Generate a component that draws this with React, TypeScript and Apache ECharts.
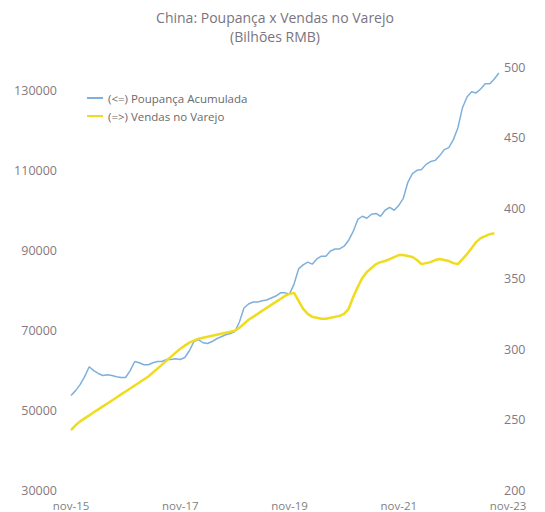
import React, { useEffect, useRef } from "react";
import * as echarts from "echarts";

const monthNames = ["jan", "fev", "mar", "abr", "mai", "jun", "jul", "ago", "set", "out", "nov", "dez"];
// Months from nov-15 to nov-23
const categories: string[] = [];
for (let k = 0; k <= 96; k++) {
  const m = (10 + k) % 12;
  const y = 15 + Math.floor((10 + k) / 12);
  categories.push(`${monthNames[m]}-${y}`);
}

const poupanca = [
  53700, 54900, 56400, 58400, 60900, 59900, 59200, 58700, 58900, 58700,
  58400, 58200, 58200, 59900, 62200, 61900, 61400, 61400, 61900, 62200,
  62200, 62700, 62700, 62900, 62700, 63200, 64900, 67200, 67700, 66900,
  66700, 67200, 67900, 68400, 68900, 69200, 69700, 72100, 75600, 76600,
  77100, 77100, 77400, 77600, 78100, 78600, 79400, 79400, 79100, 81600,
  85400, 86400, 87100, 86600, 87900, 88600, 88600, 89900, 90400, 90400,
  91100, 92600, 94800, 97800, 98600, 98100, 99100, 99300, 98600, 100100,
  100800, 100100, 101300, 103100, 107100, 109300, 110100, 110300, 111600, 112300,
  112600, 113800, 115300, 115800, 117800, 120800, 125800, 128500, 129800, 129500,
  130500, 131800, 131800, 133000, 134500,
];

const vendas = [
  242.4, 245.9, 248.7, 250.8, 252.9, 255.1, 257.2, 259.3, 261.4, 263.5,
  265.6, 267.8, 269.9, 272.0, 274.1, 276.2, 278.4, 280.5, 283.3, 286.1,
  288.9, 291.8, 294.6, 297.4, 300.2, 302.4, 304.5, 305.9, 307.3, 308.0,
  308.7, 309.4, 310.1, 310.8, 311.5, 312.2, 312.9, 315.1, 317.9, 320.7,
  322.8, 324.9, 327.1, 329.2, 331.3, 333.4, 335.5, 337.6, 339.1, 339.8,
  334.1, 328.5, 324.9, 322.8, 322.1, 321.4, 321.4, 322.1, 322.8, 323.5,
  324.9, 328.5, 336.9, 344.0, 350.4, 354.6, 357.4, 360.2, 361.6, 362.4,
  363.8, 365.2, 366.6, 366.6, 365.9, 365.2, 363.1, 360.2, 360.9, 361.6,
  363.1, 363.8, 363.1, 362.4, 360.9, 360.2, 363.8, 367.3, 371.5, 375.8,
  378.6, 380.0, 381.4, 382.1,
];

const leftMin = 30000;
const leftMax = 136000;
const rightMin = 200;
const rightMax = 500;

export default function App() {
  const ref = useRef<HTMLDivElement>(null);
  useEffect(() => {
    document.body.style.margin = "0";
    if (!ref.current) return;
    const chart = echarts.init(ref.current, null, { renderer: "svg" });
    const font = "'Open Sans', 'Noto Sans', sans-serif";
    chart.setOption({
      animation: false,
      backgroundColor: "#ffffff",
      title: {
        text: "China: Poupança x Vendas no Varejo\n(Bilhões RMB)",
        left: 270,
        textAlign: "center",
        top: 3,
        textStyle: {
          fontFamily: font,
          fontSize: 14,
          fontWeight: "normal",
          color: "#7a7480",
          lineHeight: 19,
        },
      },
      legend: {
        orient: "vertical",
        left: 82,
        top: 86,
        itemWidth: 16,
        itemHeight: 2,
        itemGap: 4,
        icon: "rect",
        textStyle: { fontFamily: font, fontSize: 11.5, color: "#6a6a6a", lineHeight: 14 },
        data: ["(<=) Poupança Acumulada", "(=>) Vendas no Varejo"],
      },
      grid: { left: 71, right: 37, top: 67, bottom: 22 },
      xAxis: {
        type: "category",
        data: categories,
        boundaryGap: false,
        axisLine: { show: false },
        axisTick: { show: false },
        axisLabel: {
          interval: 23,
          margin: 10,
          fontFamily: font,
          fontSize: 11.5,
          lineHeight: 11,
          color: "#7f7f7f",
        },
        splitLine: { show: false },
      },
      yAxis: [
        {
          type: "value",
          position: "left",
          min: leftMin,
          max: leftMax,
          interval: 10000,
          axisLine: { show: false },
          axisTick: { show: false },
          splitLine: { show: false },
          axisLabel: {
            margin: 14,
            fontFamily: font,
            fontSize: 12.5,
            color: "#85787f",
            showMaxLabel: false,
            formatter: (v: number) =>
              (v - leftMin) % 20000 === 0 && v <= 130000 ? String(v) : "",
          },
        },
        {
          type: "value",
          position: "right",
          min: rightMin,
          max: rightMax,
          interval: 50,
          axisLine: { show: false },
          axisTick: { show: false },
          splitLine: { show: false },
          axisLabel: {
            margin: -4,
            fontFamily: font,
            fontSize: 12.5,
            color: "#85787f",
            lineHeight: 12,
          },
        },
      ],
      series: [
        {
          name: "(<=) Poupança Acumulada",
          type: "line",
          yAxisIndex: 0,
          data: poupanca,
          showSymbol: false,
          symbol: "none",
          lineStyle: { color: "#7fb0dc", width: 1.5 },
          itemStyle: { color: "#7fb0dc" },
        },
        {
          name: "(=>) Vendas no Varejo",
          type: "line",
          yAxisIndex: 1,
          data: vendas,
          showSymbol: false,
          symbol: "none",
          lineStyle: { color: "#f0dc1e", width: 2.5 },
          itemStyle: { color: "#f0dc1e" },
        },
      ],
    });
    return () => chart.dispose();
  }, []);
  return <div ref={ref} style={{ width: 545, height: 512 }} />;
}
